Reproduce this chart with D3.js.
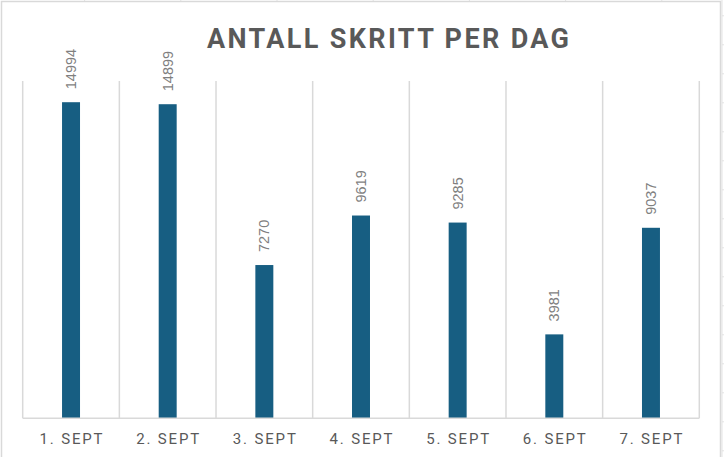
<!DOCTYPE html>
<html>
<head>
<meta charset="utf-8">
<script src="https://cdn.jsdelivr.net/npm/d3@7"></script>
<style>
  html, body { margin: 0; padding: 0; background: #fff; }
  svg { display: block; }
</style>
</head>
<body>
<div class="chart"></div>
<script>
// days and step counts
const days = ["1. SEPT", "2. SEPT", "3. SEPT", "4. SEPT", "5. SEPT", "6. SEPT", "7. SEPT"];
const steps = [14994, 14899, 7270, 9619, 9285, 3981, 9037];
const yDomain = [0, 16000];

const width = 724,
    height = 457;

// plot area
const plotLeft = 22.7,
    plotRight = 699.3,
    plotTop = 81,
    plotBottom = 418.3;

const svg = d3.select(".chart")
    .append("svg")
    .attr("width", width)
    .attr("height", height);

// spreadsheet grid peeking out behind the chart object
const sheet = svg.append("g").attr("stroke", "#e3e3e3").attr("stroke-width", 1);
d3.range(84.6, 700, 96.2).forEach(function (x) {
    sheet.append("line").attr("x1", x).attr("x2", x).attr("y1", 0).attr("y2", 1.5);
});
sheet.append("line").attr("x1", 722).attr("x2", 722).attr("y1", 0).attr("y2", height);
d3.range(15.8, height, 29).forEach(function (y) {
    sheet.append("line").attr("x1", 722).attr("x2", width).attr("y1", y).attr("y2", y);
});

// chart frame
svg.append("rect")
    .attr("x", 1.5)
    .attr("y", 1.5)
    .attr("width", 719)
    .attr("height", height + 10)
    .attr("fill", "white")
    .attr("stroke", "#d9d9d9")
    .attr("stroke-width", 1.5);

const x = d3.scaleBand()
    .domain(days)
    .range([plotLeft, plotRight])
    .padding(0);

const y = d3.scaleLinear()
    .domain(yDomain)
    .range([plotBottom, plotTop]);

const barWidth = x.step() * 0.186;

// vertical gridlines on category borders
const edges = days.map(d => x(d)).concat([plotRight]);
svg.append("g")
    .selectAll("line")
    .data(edges)
    .join("line")
    .attr("x1", d => d)
    .attr("x2", d => d)
    .attr("y1", y(yDomain[1]))
    .attr("y2", y(0))
    .attr("stroke", "#d9d9d9")
    .attr("stroke-width", 1.5);

// bars
svg.append("g")
    .selectAll("rect")
    .data(steps)
    .join("rect")
    .attr("x", (d, i) => x(days[i]) + x.bandwidth() / 2 - barWidth / 2)
    .attr("y", d => y(d))
    .attr("width", barWidth)
    .attr("height", d => y(0) - y(d))
    .attr("fill", "#175e82");

// value labels, rotated
svg.append("g")
    .selectAll("text")
    .data(steps)
    .join("text")
    .attr("transform", (d, i) => `translate(${x(days[i]) + x.bandwidth() / 2 + 5},${y(d) - 13}) rotate(-90)`)
    .attr("text-anchor", "start")
    .style("font-family", "'Liberation Sans', Arial, sans-serif")
    .style("font-size", "14.5px")
    .attr("fill", "#7f7f7f")
    .text(d => d);

// x axis
const xAxis = svg.append("g")
    .attr("transform", `translate(0,${plotBottom})`)
    .call(d3.axisBottom(x).tickSize(0).tickPadding(0));
xAxis.select(".domain")
    .attr("d", `M${plotLeft},0H${plotRight}`)
    .attr("stroke", "#d9d9d9")
    .attr("stroke-width", 1.5);
xAxis.selectAll("text")
    .attr("y", 26)
    .attr("dy", 0)
    .attr("fill", "#595959")
    .style("font-family", "Roboto, sans-serif")
    .style("font-size", "15px")
    .attr("textLength", 63)
    .attr("lengthAdjust", "spacing");

// title
svg.append("text")
    .attr("x", 388)
    .attr("y", 47.7)
    .attr("text-anchor", "middle")
    .attr("fill", "#595959")
    .style("font-family", "Roboto, sans-serif")
    .style("font-weight", "bold")
    .style("font-size", "27px")
    .attr("textLength", 362)
    .attr("lengthAdjust", "spacing")
    .text("ANTALL SKRITT PER DAG");
</script>
</body>
</html>
